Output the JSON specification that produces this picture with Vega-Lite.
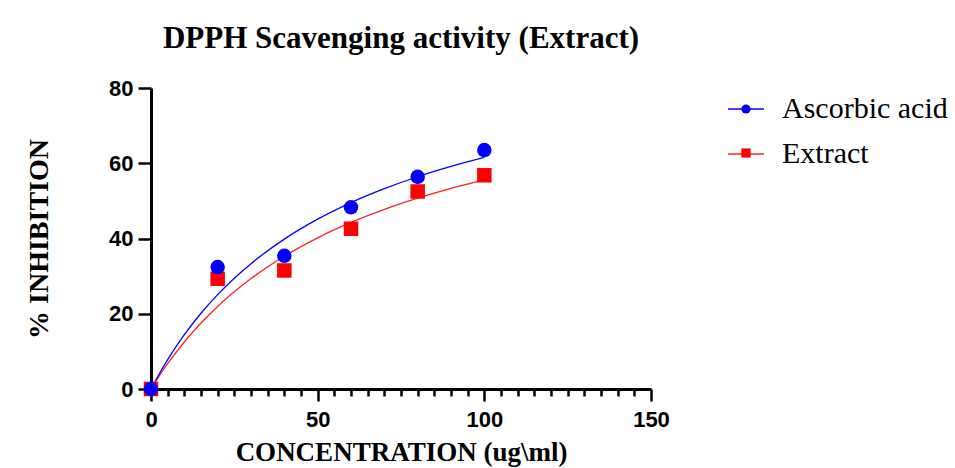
{
  "$schema": "https://vega.github.io/schema/vega-lite/v6.json",
  "width": 500,
  "height": 301,
  "autosize": {"type": "none"},
  "padding": {"left": 151, "top": 88, "right": 304, "bottom": 79},
  "background": "white",
  "title": {
    "text": "DPPH Scavenging activity (Extract)",
    "font": "Liberation Serif",
    "fontWeight": "bold",
    "fontSize": 31,
    "color": "black",
    "anchor": "middle",
    "frame": "group",
    "baseline": "alphabetic",
    "offset": -2
  },
  "datasets": {
    "curves": [
      {"conc": 0, "inhibition": 0, "series": "Extract"},
      {"conc": 2, "inhibition": 2.81, "series": "Extract"},
      {"conc": 5, "inhibition": 6.72, "series": "Extract"},
      {"conc": 10, "inhibition": 12.5, "series": "Extract"},
      {"conc": 15, "inhibition": 17.53, "series": "Extract"},
      {"conc": 20, "inhibition": 21.95, "series": "Extract"},
      {"conc": 30, "inhibition": 29.35, "series": "Extract"},
      {"conc": 40, "inhibition": 35.29, "series": "Extract"},
      {"conc": 50, "inhibition": 40.18, "series": "Extract"},
      {"conc": 60, "inhibition": 44.26, "series": "Extract"},
      {"conc": 70, "inhibition": 47.73, "series": "Extract"},
      {"conc": 80, "inhibition": 50.7, "series": "Extract"},
      {"conc": 90, "inhibition": 53.29, "series": "Extract"},
      {"conc": 100, "inhibition": 55.56, "series": "Extract"},
      {"conc": 0, "inhibition": 0, "series": "Ascorbic acid"},
      {"conc": 2, "inhibition": 3.27, "series": "Ascorbic acid"},
      {"conc": 5, "inhibition": 7.79, "series": "Ascorbic acid"},
      {"conc": 10, "inhibition": 14.42, "series": "Ascorbic acid"},
      {"conc": 15, "inhibition": 20.13, "series": "Ascorbic acid"},
      {"conc": 20, "inhibition": 25.09, "series": "Ascorbic acid"},
      {"conc": 30, "inhibition": 33.31, "series": "Ascorbic acid"},
      {"conc": 40, "inhibition": 39.84, "series": "Ascorbic acid"},
      {"conc": 50, "inhibition": 45.14, "series": "Ascorbic acid"},
      {"conc": 60, "inhibition": 49.54, "series": "Ascorbic acid"},
      {"conc": 70, "inhibition": 53.24, "series": "Ascorbic acid"},
      {"conc": 80, "inhibition": 56.41, "series": "Ascorbic acid"},
      {"conc": 90, "inhibition": 59.14, "series": "Ascorbic acid"},
      {"conc": 100, "inhibition": 61.53, "series": "Ascorbic acid"}
    ],
    "points": [
      {"conc": 0, "inhibition": 0, "series": "Extract"},
      {"conc": 20, "inhibition": 29.3, "series": "Extract"},
      {"conc": 40, "inhibition": 31.5, "series": "Extract"},
      {"conc": 60, "inhibition": 42.6, "series": "Extract"},
      {"conc": 80, "inhibition": 52.5, "series": "Extract"},
      {"conc": 100, "inhibition": 56.8, "series": "Extract"},
      {"conc": 0, "inhibition": 0, "series": "Ascorbic acid"},
      {"conc": 20, "inhibition": 32.4, "series": "Ascorbic acid"},
      {"conc": 40, "inhibition": 35.4, "series": "Ascorbic acid"},
      {"conc": 60, "inhibition": 48.3, "series": "Ascorbic acid"},
      {"conc": 80, "inhibition": 56.4, "series": "Ascorbic acid"},
      {"conc": 100, "inhibition": 63.5, "series": "Ascorbic acid"}
    ]
  },
  "encoding": {
    "x": {
      "field": "conc",
      "type": "quantitative",
      "scale": {"domain": [0, 150], "nice": false, "zero": false},
      "axis": {
        "title": "CONCENTRATION (ug\\ml)",
        "titleFontSize": 27,
        "values": [0,5,10,15,20,25,30,35,40,45,50,55,60,65,70,75,80,85,90,95,100,105,110,115,120,125,130,135,140,145,150],
        "labelExpr": "datum.value % 50 === 0 ? datum.label : ''",
        "tickSize": {"condition": {"test": "datum.value % 50 === 0", "value": 12}, "value": 7},
        "labelPadding": 8,
        "titlePadding": 9
      }
    },
    "y": {
      "field": "inhibition",
      "type": "quantitative",
      "scale": {"domain": [0, 80], "nice": false},
      "axis": {
        "title": "% INHIBITION",
        "titleFontSize": 28,
        "values": [0, 20, 40, 60, 80],
        "tickSize": 13,
        "labelPadding": 5,
        "titlePadding": 55
      }
    }
  },
  "layer": [
    {
      "data": {"name": "curves"},
      "mark": {"type": "line", "strokeWidth": 1.3, "clip": false, "interpolate": "monotone"},
      "encoding": {
        "stroke": {
          "field": "series",
          "type": "nominal",
          "scale": {"domain": ["Ascorbic acid", "Extract"], "range": ["#0000ff", "#ff2020"]},
          "legend": {
            "orient": "none",
            "legendX": 576,
            "legendY": 2,
            "title": null,
            "symbolType": "stroke",
            "symbolSize": 1296,
            "symbolStrokeWidth": 1.5,
            "labelFont": "Liberation Serif",
            "labelFontSize": 30,
            "labelColor": "black",
            "labelOffset": 17,
            "labelLimit": 400,
            "rowPadding": 11
          }
        }
      }
    },
    {
      "data": {"name": "points"},
      "mark": {"type": "point", "filled": true, "opacity": 1, "size": 210, "clip": false},
      "encoding": {
        "fill": {
          "field": "series",
          "type": "nominal",
          "scale": {"range": ["#0000ff", "#ff0000"]},
          "legend": {
            "orient": "none",
            "legendX": 581,
            "legendY": 7,
            "title": null,
            "symbolSize": 85,
            "labelExpr": "''",
            "labelFontSize": 28,
            "rowPadding": 16
          }
        },
        "shape": {
          "field": "series",
          "type": "nominal",
          "scale": {"range": ["circle", "square"]},
          "legend": {
            "orient": "none",
            "legendX": 581,
            "legendY": 7,
            "title": null,
            "symbolSize": 85,
            "labelExpr": "''",
            "labelFontSize": 28,
            "rowPadding": 16
          }
        }
      }
    }
  ],
  "config": {
    "view": {"stroke": null},
    "axis": {
      "grid": false,
      "zindex": 0,
      "domainColor": "black",
      "domainWidth": 3,
      "tickColor": "black",
      "tickWidth": 2.5,
      "labelColor": "black",
      "labelFont": "Liberation Sans",
      "labelFontWeight": "bold",
      "labelFontSize": 22,
      "labelFlush": false,
      "labelOverlap": false,
      "titleColor": "black",
      "titleFont": "Liberation Serif",
      "titleFontWeight": "bold",
      "titleFontSize": 26
    }
  }
}
